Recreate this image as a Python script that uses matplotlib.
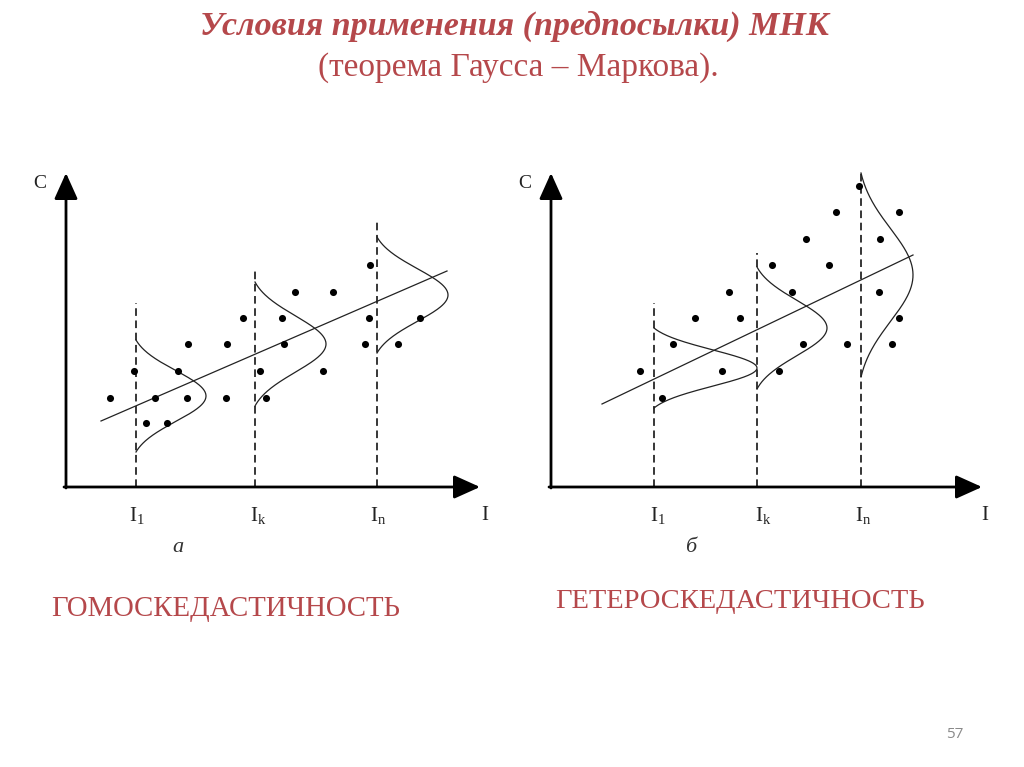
import numpy as np
import matplotlib
matplotlib.use("Agg")
import matplotlib.pyplot as plt

# ---------------- data (panel units: origin at axes corner, y up) ----------------
# panel a (homoscedasticity)
a_x = [44, 68, 80, 89, 101, 112, 122, 121, 161, 160, 177, 194, 200, 216, 218, 229, 257, 267, 304, 303, 299, 332, 354]
a_y = [89, 116, 64, 89, 64, 116, 143, 89, 143, 89, 169, 116, 89, 169, 143, 195, 116, 195, 222, 169, 143, 143, 169]
a_line_x = [35, 381]
a_line_y = [66, 216]
a_vlines_x = [70, 189, 311]
a_vlines_top = [184, 217, 267]
a_gauss_center = [91, 143, 192]
a_gauss_half = [56, 62, 58]
a_gauss_amp = [70, 71, 71]
a_tick_x = [71, 192, 312, 419]
a_xmax, a_ymax = 414, 314

# panel б (heteroscedasticity)
b_x = [89, 111, 122, 144, 171, 178, 189, 221, 228, 241, 252, 255, 278, 285, 296, 308, 329, 328, 348, 348, 341]
b_y = [116, 89, 143, 169, 116, 195, 169, 222, 116, 195, 143, 248, 222, 275, 143, 301, 248, 195, 275, 169, 143]
b_line_x = [51, 362]
b_line_y = [83, 232]
b_vlines_x = [103, 206, 310]
b_vlines_top = [184, 234, 314]
b_gauss_center = [119, 159, 212]
b_gauss_half = [40, 61, 102]
b_gauss_amp = [103, 70, 52]
b_tick_x = [107, 212, 312, 434]
b_xmax, b_ymax = 431, 314

tick_labels = [r"I$_\mathrm{1}$", r"I$_\mathrm{k}$", r"I$_\mathrm{n}$", "I"]

RED = "#b5484b"
W, H = 1024, 767
fig = plt.figure(figsize=(W / 100, H / 100), dpi=100)
fig.patch.set_facecolor("white")
plt.rcParams["font.family"] = ["Liberation Serif", "DejaVu Serif"]
plt.rcParams["mathtext.fontset"] = "custom"
plt.rcParams["mathtext.rm"] = "Liberation Serif"
plt.rcParams["mathtext.it"] = "Liberation Serif:italic"


def gauss_curve(base, center, half, amp):
    t = np.linspace(-half, half, 200)
    sig = half / 2.2
    g = np.exp(-0.5 * (t / sig) ** 2)
    e = np.exp(-0.5 * (half / sig) ** 2)
    g = (g - e) / (1 - e)
    return base + amp * g, center + t


def panel(ox, oy, xmax, ymax, xs, ys, lx, ly, vx, vtop, gc, gh, ga, tx):
    ax = fig.add_axes([ox / W, (H - oy) / H, xmax / W, ymax / H])
    ax.set_xlim(0, xmax)
    ax.set_ylim(0, ymax)
    ax.axis("off")
    # axes with arrows
    ax.annotate("", xy=(xmax, 0), xytext=(-2, 0), annotation_clip=False,
                arrowprops=dict(arrowstyle="-|>,head_length=1.0,head_width=0.45",
                                color="black", lw=2.0, shrinkA=0, shrinkB=0,
                                mutation_scale=16))
    ax.annotate("", xy=(0, ymax), xytext=(0, -1), annotation_clip=False,
                arrowprops=dict(arrowstyle="-|>,head_length=1.0,head_width=0.45",
                                color="black", lw=2.0, shrinkA=0, shrinkB=0,
                                mutation_scale=16))
    # dashed verticals
    for x, top in zip(vx, vtop):
        ax.plot([x, x], [0, top], color="black", lw=1.1, ls=(0, (5, 3)), clip_on=False)
    # regression line
    ax.plot(lx, ly, color="#222222", lw=0.9, clip_on=False)
    # gaussian curves
    for x, c, h, a in zip(vx, gc, gh, ga):
        cx, cy = gauss_curve(x, c, h, a)
        ax.plot(cx, cy, color="#222222", lw=0.9, clip_on=False)
    # points
    ax.scatter(xs, ys, s=26, color="black", zorder=5, clip_on=False, linewidths=0)
    # tick labels
    for x, lab in zip(tx, tick_labels):
        ax.text(x, -28, lab, ha="center", va="center", fontsize=15, color="#222222")
    ax.text(-26, ymax - 10, "C", ha="center", va="center", fontsize=14, color="#222222")
    return ax


axa = panel(66, 487, a_xmax, a_ymax, a_x, a_y, a_line_x, a_line_y, a_vlines_x, a_vlines_top,
            a_gauss_center, a_gauss_half, a_gauss_amp, a_tick_x)
axa.text(112, -60, "a", ha="center", va="center", fontsize=16, style="italic", color="#333333")

axb = panel(551, 487, b_xmax, b_ymax, b_x, b_y, b_line_x, b_line_y, b_vlines_x, b_vlines_top,
            b_gauss_center, b_gauss_half, b_gauss_amp, b_tick_x)
axb.text(140, -60, "б", ha="center", va="center", fontsize=16, style="italic", color="#333333")

# titles
fig.text(514 / W, 1 - 26 / H, "Условия применения (предпосылки) МНК", ha="center", va="center",
         fontsize=24.5, fontweight="bold", style="italic", color=RED)
fig.text(518 / W, 1 - 68 / H, "(теорема Гаусса – Маркова).", ha="center", va="center",
         fontsize=24, color=RED)
fig.text(226 / W, 1 - 609 / H, "ГОМОСКЕДАСТИЧНОСТЬ", ha="center", va="center",
         fontsize=20.7, color=RED)
fig.text(740 / W, 1 - 601 / H, "ГЕТЕРОСКЕДАСТИЧНОСТЬ", ha="center", va="center",
         fontsize=20.5, color=RED)
fig.text(955 / W, 1 - 735 / H, "57", ha="center", va="center", fontsize=11,
         color="#8a8a8a", family=["Open Sans", "DejaVu Sans"])

fig.savefig("out.png", dpi=100, facecolor="white")
